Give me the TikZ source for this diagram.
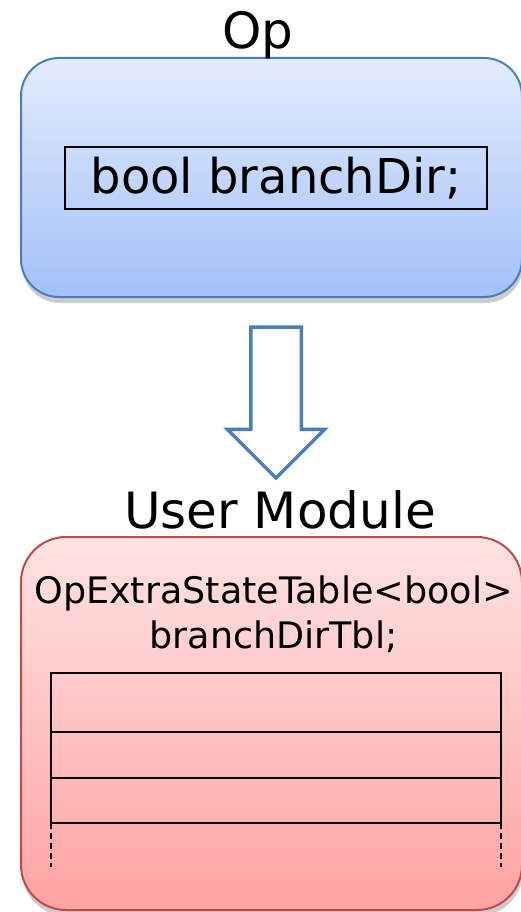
\documentclass[tikz,border=0pt]{standalone}
\usepackage{fontspec}
\setmainfont{DejaVu Sans}
\usetikzlibrary{positioning,shadows,shapes.arrows}

\definecolor{opblue}{HTML}{4A7EBB}
\definecolor{optop}{HTML}{E3ECFD}
\definecolor{opbottom}{HTML}{A3C1F8}
\definecolor{modred}{HTML}{BE4B48}
\definecolor{modtop}{HTML}{FFE3E3}
\definecolor{modbottom}{HTML}{FFA2A2}

\begin{document}
\begin{tikzpicture}[x=1pt,y=1pt,
    every node/.style={inner sep=0pt,outer sep=0pt},
    title/.style={font=\fontsize{50}{60}\selectfont},
    box/.style={line width=2pt,minimum width=501pt,
      drop shadow={opacity=.4,shadow xshift=1pt,shadow yshift=-6pt}},
    row/.style={draw,line width=2.5pt,inner sep=0pt,outer sep=0pt,
      minimum width=450pt}]

        \useasboundingbox (0,0) rectangle (520,-912);

        \node (op) [box,rounded corners=38pt,draw=opblue,top color=optop,
          bottom color=opbottom,minimum height=239pt] at (271.5,-177.5) {};
        \node (opvar) [draw,line width=2.5pt,minimum width=422pt,minimum height=62pt,
          font=\fontsize{48}{58}\selectfont] at (276,-178) {bool branchDir;};
        \node (optitle) [title,anchor=base] at (258,-49) {Op};

        \node (flow) [single arrow,draw=opblue,line width=3.5pt,fill=white,
          rotate=-90,anchor=tail,minimum height=151pt,
          single arrow head extend=23.5pt,inner xsep=0pt,inner ysep=23.5pt]
          at (276,-327) {};

        \node (mod) [box,rounded corners=45pt,draw=modred,top color=modtop,
          bottom color=modbottom,minimum height=373pt] at (271.5,-723.5) {};
        \node (modtitle) [title,anchor=base] at (280,-528) {User Module};
        \node (tbl) [align=center,font=\fontsize{36.5}{45}\selectfont]
          at (273.5,-614.5) {OpExtraStateTable<bool>\\branchDirTbl;};

        \begin{scope}[every node/.style={row}]
          \node (row1) [minimum height=59pt,anchor=north] at (276,-673) {};
          \node (row2) [minimum height=46pt,below=0pt of row1] {};
          \node (row3) [minimum height=45pt,below=0pt of row2] {};
        \end{scope}

        \coordinate [below=44pt of row3.south west] (gapl);
        \coordinate [below=44pt of row3.south east] (gapr);
        \begin{scope}[line width=2.5pt,dash pattern=on 6pt off 4pt]
          \draw (row3.south west) -- (gapl);
          \draw (row3.south east) -- (gapr);
        \end{scope}

      \end{tikzpicture}
\end{document}
